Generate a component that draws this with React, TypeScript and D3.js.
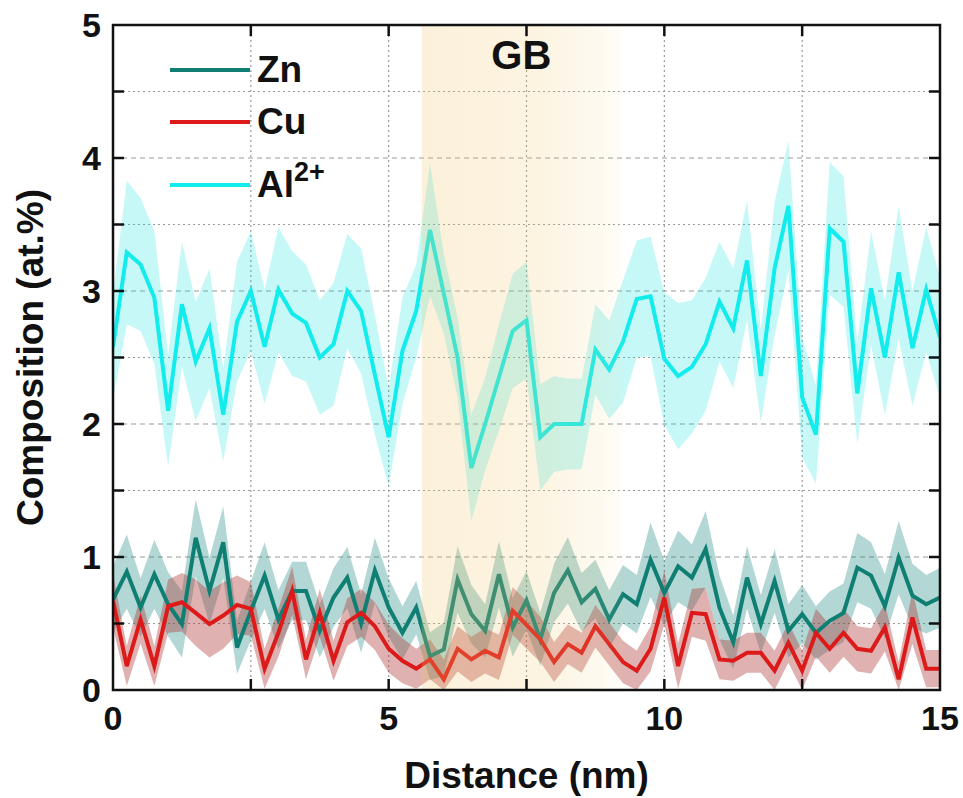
import React from "react";
import * as d3 from "d3";

const distance: number[] = d3.range(61).map((i) => i * 0.25);

const alValues = [
  2.58, 3.29, 3.2, 2.95, 2.1, 2.9, 2.47, 2.72, 2.07, 2.77,
  3.0, 2.58, 3.01, 2.83, 2.76, 2.5, 2.6, 3.0, 2.85, 2.37,
  1.9, 2.55, 2.85, 3.46, 2.98, 2.5, 1.67, 2.0, 2.35, 2.7,
  2.78, 1.9, 2.0, 2.0, 2.0, 2.56, 2.41, 2.62, 2.94, 2.96,
  2.49, 2.36, 2.43, 2.6, 2.92, 2.72, 3.23, 2.36, 3.17, 3.64,
  2.2, 1.92, 3.47, 3.37, 2.23, 3.02, 2.5, 3.14, 2.57, 3.01,
  2.65,
];
const alErr = [
  0.4, 0.54, 0.5, 0.5, 0.42, 0.47, 0.45, 0.45, 0.35, 0.45,
  0.45, 0.43, 0.47, 0.47, 0.44, 0.43, 0.46, 0.43, 0.47, 0.45,
  0.37, 0.4, 0.35, 0.5, 0.3, 0.3, 0.4, 0.35, 0.4, 0.43,
  0.44, 0.4, 0.36, 0.34, 0.34, 0.34, 0.37, 0.46, 0.44, 0.45,
  0.5, 0.55, 0.5, 0.5, 0.45, 0.45, 0.45, 0.35, 0.5, 0.49,
  0.45, 0.37, 0.5, 0.49, 0.38, 0.43, 0.43, 0.5, 0.43, 0.47,
  0.45,
];
const znValues = [
  0.68, 0.89, 0.62, 0.87, 0.645, 0.495, 1.145, 0.745, 1.11, 0.32,
  0.595, 0.86, 0.53, 0.745, 0.745, 0.445, 0.695, 0.845, 0.5, 0.9,
  0.62, 0.43, 0.62, 0.255, 0.305, 0.83, 0.57, 0.445, 0.87, 0.47,
  0.675, 0.38, 0.73, 0.9, 0.66, 0.76, 0.53, 0.72, 0.645, 0.98,
  0.73, 0.93, 0.845, 1.06, 0.62, 0.36, 0.845, 0.495, 0.82, 0.445,
  0.57, 0.43, 0.52, 0.58, 0.92, 0.86, 0.63, 0.995, 0.71, 0.645,
  0.695,
];
const znErr = [
  0.25, 0.28, 0.22, 0.26, 0.24, 0.25, 0.29, 0.25, 0.27, 0.2,
  0.22, 0.25, 0.22, 0.22, 0.22, 0.2, 0.22, 0.23, 0.22, 0.245,
  0.22, 0.2, 0.2, 0.18, 0.2, 0.25, 0.22, 0.2, 0.25, 0.22,
  0.22, 0.2, 0.22, 0.25, 0.22, 0.22, 0.22, 0.22, 0.22, 0.28,
  0.24, 0.27, 0.25, 0.285, 0.24, 0.2, 0.235, 0.22, 0.24, 0.2,
  0.22, 0.2, 0.22, 0.22, 0.26, 0.25, 0.24, 0.275, 0.24, 0.22,
  0.225,
];
const cuValues = [
  0.67, 0.18, 0.53, 0.18, 0.63, 0.66, 0.58, 0.495, 0.56, 0.64,
  0.61, 0.16, 0.43, 0.745, 0.23, 0.58, 0.22, 0.51, 0.58, 0.48,
  0.31, 0.22, 0.16, 0.23, 0.08, 0.31, 0.23, 0.295, 0.245, 0.595,
  0.49, 0.38, 0.21, 0.345, 0.28, 0.48, 0.345, 0.21, 0.145, 0.31,
  0.695, 0.18, 0.58, 0.57, 0.23, 0.22, 0.28, 0.28, 0.145, 0.355,
  0.145, 0.43, 0.31, 0.43, 0.31, 0.295, 0.47, 0.08, 0.545, 0.16,
  0.16,
];
const cuErr = [
  0.2, 0.15, 0.18, 0.15, 0.2, 0.22, 0.25, 0.25, 0.25, 0.22,
  0.2, 0.15, 0.18, 0.18, 0.15, 0.18, 0.15, 0.18, 0.18, 0.18,
  0.18, 0.17, 0.15, 0.15, 0.15, 0.17, 0.17, 0.17, 0.17, 0.18,
  0.18, 0.17, 0.15, 0.15, 0.15, 0.16, 0.16, 0.16, 0.15, 0.17,
  0.2, 0.17, 0.18, 0.2, 0.15, 0.15, 0.15, 0.15, 0.15, 0.15,
  0.15, 0.18, 0.18, 0.18, 0.17, 0.17, 0.18, 0.13, 0.2, 0.14,
  0.14,
];

const xTicks = [0, 5, 10, 15];
const yTicks = [0, 1, 2, 3, 4, 5];
const gbRange = [5.6, 9.25];

const series = [
  { name: "Zn", values: znValues, err: znErr, line: "#0f7f74", band: "rgba(20,130,120,0.32)" },
  { name: "Cu", values: cuValues, err: cuErr, line: "#dd1a1a", band: "rgba(170,50,50,0.38)" },
  { name: "Al", values: alValues, err: alErr, line: "#12ecec", band: "rgba(0,225,225,0.22)" },
];

const FONT = "Arial, 'Liberation Sans', Helvetica, sans-serif";

export default function App() {
  const W = 963, H = 798;
  const m = { left: 113, right: 940, top: 25, bottom: 690 };
  const x = d3.scaleLinear().domain([0, 15]).range([m.left, m.right]);
  const y = d3.scaleLinear().domain([0, 5]).range([m.bottom, m.top]);

  const line = (vals: number[]) =>
    d3.line<number>().x((_, i) => x(distance[i])).y((d) => y(d))(vals) || "";
  const area = (vals: number[], err: number[]) =>
    d3
      .area<number>()
      .x((_, i) => x(distance[i]))
      .y0((d, i) => y(Math.max(0, d - err[i])))
      .y1((d, i) => y(d + err[i]))(vals) || "";

  const hGrid = d3.range(0.5, 5, 0.5);
  const vGrid = [2.5, 5, 7.5, 10, 12.5];
  const minorX = [2.5, 5, 7.5, 10, 12.5];
  const yTickAll = d3.range(0.5, 5, 0.5);

  const order = [series[2], series[0], series[1]];

  return (
    <svg width={W} height={H} style={{ position: "absolute", left: 0, top: 0, background: "#fff" }} fontFamily={FONT}>
      <defs>
        <clipPath id="plot">
          <rect x={m.left} y={m.top} width={m.right - m.left} height={m.bottom - m.top} />
        </clipPath>
        <linearGradient id="gb" x1="0" x2="1" y1="0" y2="0">
          <stop offset="0" stopColor="rgb(240,195,100)" stopOpacity={0.24} />
          <stop offset="0.6" stopColor="rgb(242,200,110)" stopOpacity={0.2} />
          <stop offset="0.88" stopColor="rgb(245,210,130)" stopOpacity={0.12} />
          <stop offset="1" stopColor="rgb(245,215,140)" stopOpacity={0.04} />
        </linearGradient>
      </defs>

      {/* grid */}
      <g stroke="#9a9a9a" strokeWidth={1.2}>
        {hGrid.map((v) => (
          <line key={"h" + v} x1={m.left} x2={m.right} y1={y(v)} y2={y(v)}
            strokeDasharray={Number.isInteger(v) ? "5,4" : "2,3"} />
        ))}
        {vGrid.map((v) => (
          <line key={"v" + v} x1={x(v)} x2={x(v)} y1={m.top} y2={m.bottom} strokeDasharray="2,3" />
        ))}
      </g>

      <g clipPath="url(#plot)">
        {order.map((s) => (
          <path key={"a" + s.name} d={area(s.values, s.err)} fill={s.band} stroke="none" />
        ))}
        {order.map((s) => (
          <path key={"l" + s.name} d={line(s.values)} fill="none" stroke={s.line} strokeWidth={4} strokeLinejoin="miter" strokeMiterlimit={4} />
        ))}
        <rect x={x(gbRange[0])} y={m.top} width={x(gbRange[1]) - x(gbRange[0])} height={m.bottom - m.top} fill="url(#gb)" />
      </g>

      {/* frame */}
      <rect x={m.left} y={m.top} width={m.right - m.left} height={m.bottom - m.top} fill="none" stroke="#111" strokeWidth={2.5} />

      {/* ticks */}
      <g stroke="#111" strokeWidth={2.5}>
        {yTickAll.map((v) => (
          <g key={"yt" + v}>
            <line x1={m.left} x2={m.left + 11} y1={y(v)} y2={y(v)} />
            <line x1={m.right} x2={m.right - 11} y1={y(v)} y2={y(v)} />
          </g>
        ))}
        {minorX.map((v) => (
          <g key={"xt" + v}>
            <line x1={x(v)} x2={x(v)} y1={m.bottom} y2={m.bottom - 11} />
            <line x1={x(v)} x2={x(v)} y1={m.top} y2={m.top + 11} />
          </g>
        ))}
      </g>

      {/* tick labels */}
      <g fontSize={34} fontWeight="bold" fill="#111">
        {xTicks.map((v) => (
          <text key={"xl" + v} x={x(v)} y={m.bottom + 40} textAnchor="middle">{v}</text>
        ))}
        {yTicks.map((v) => (
          <text key={"yl" + v} x={m.left - 12} y={y(v) + 12} textAnchor="end">{v}</text>
        ))}
      </g>

      {/* axis titles */}
      <text x={(m.left + m.right) / 2} y={788} textAnchor="middle" fontSize={37} fontWeight="bold" fill="#111">
        Distance (nm)
      </text>
      <text transform={`translate(43, ${(m.top + m.bottom) / 2}) rotate(-90)`} textAnchor="middle" fontSize={37} fontWeight="bold" fill="#111">
        Composition (at.%)
      </text>

      {/* GB label */}
      <text x={x((gbRange[0] + gbRange[1]) / 2) - 1} y={69} textAnchor="middle" fontSize={40} fontWeight="bold" fill="#111">
        GB
      </text>

      {/* legend */}
      {[
        { s: series[0], yy: 70, label: "Zn" },
        { s: series[1], yy: 122, label: "Cu" },
        { s: series[2], yy: 185, label: "Al" },
      ].map(({ s, yy, label }) => (
        <g key={"lg" + label}>
          <line x1={170} x2={250} y1={yy} y2={yy} stroke={s.line} strokeWidth={4} />
          <text x={257} y={yy + 12} fontSize={37} fontWeight="bold" fill="#111">
            {label}
            {label === "Al" ? (
              <tspan fontSize={27} dy={-16}>2+</tspan>
            ) : null}
          </text>
        </g>
      ))}
    </svg>
  );
}
